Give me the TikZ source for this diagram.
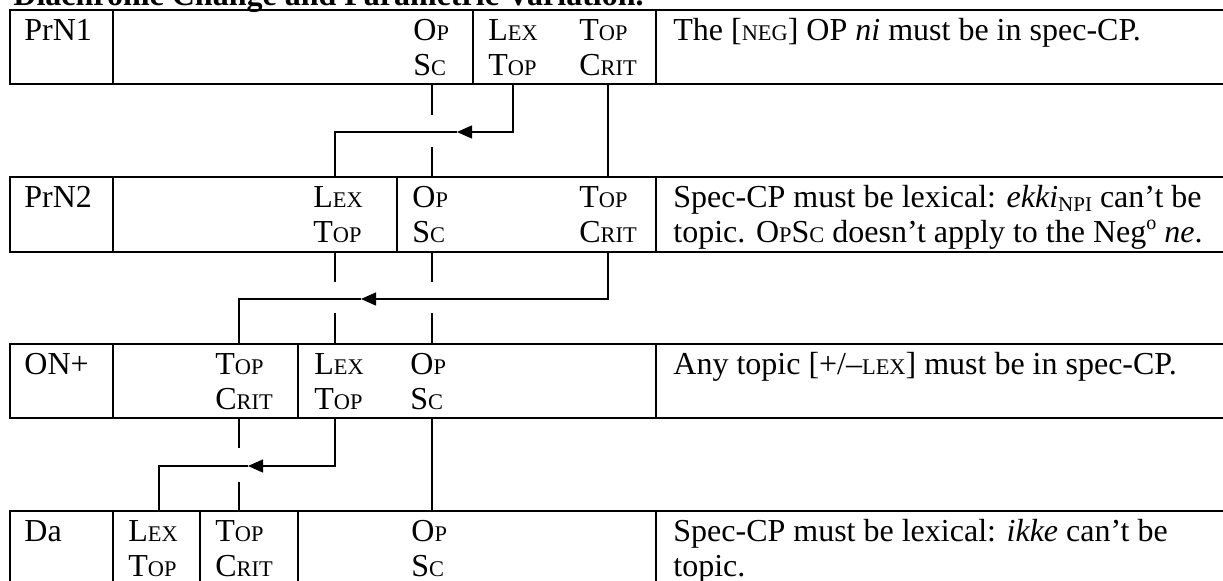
\documentclass[tikz,border=0pt]{standalone}
\usepackage{fontspec}
\setmainfont{Liberation Serif}
\usetikzlibrary{arrows.meta, positioning, calc}

% fake small caps: first letter full size, rest reduced
\newcommand{\fsc}[2]{#1{\fontsize{11.2}{12}\selectfont #2}}
\newcommand{\allsc}[1]{{\fontsize{11.2}{12}\selectfont #1}}

\begin{document}
\begin{tikzpicture}[x=0.5pt, y=-0.5pt,
  >={Triangle[length=7.5pt, width=6.5pt]},
  cell/.style={line width=1pt},
  link/.style={line width=0.7pt},
  feat/.style={anchor=base west, inner sep=0pt, font=\fontsize{16}{18}\selectfont},
  note/.style={feat}]

\useasboundingbox (0,0) rectangle (1223,580);

% Title (cut at the top edge)
\node[anchor=base west, inner sep=0pt, font=\fontsize{16}{18}\selectfont\bfseries] (title) at (13,5) {Diachronic Change and Parametric Variation.};

%%% Row 1: PrN1 %%%
\draw[cell] (10,10) rectangle (1240,84);
\draw[cell] (113,10) -- (113,84);
\draw[cell] (473,10) -- (473,84);
\draw[cell] (656,10) -- (656,84);
\node[feat] (prn1) at (24,40) {PrN1};
\node[feat] (prn1-op) at (413,40) {\fsc{O}{P}};
\node[feat] (prn1-sc) at (413,75) {\fsc{S}{C}};
\node[feat] (prn1-lex) at (488,40) {\fsc{L}{EX}};
\node[feat] (prn1-top) at (488,75) {\fsc{T}{OP}};
\node[feat] (prn1-tc) at (579,40) {\fsc{T}{OP}};
\node[feat] (prn1-crit) at (579,75) {\fsc{C}{RIT}};
\node[note] (prn1-note) at (673,40) {The [\allsc{NEG}] OP \textit{ni} must be in spec-CP.};

%%% Row 2: PrN2 %%%
\draw[cell] (10,177) rectangle (1240,252);
\draw[cell] (113,177) -- (113,252);
\draw[cell] (397,177) -- (397,252);
\draw[cell] (656,177) -- (656,252);
\node[feat] (prn2) at (24,207) {PrN2};
\node[feat] (prn2-lex) at (313,207) {\fsc{L}{EX}};
\node[feat] (prn2-top) at (313,242) {\fsc{T}{OP}};
\node[feat] (prn2-op) at (412,207) {\fsc{O}{P}};
\node[feat] (prn2-sc) at (412,242) {\fsc{S}{C}};
\node[feat] (prn2-tc) at (579,207) {\fsc{T}{OP}};
\node[feat] (prn2-crit) at (579,242) {\fsc{C}{RIT}};
\node[note] (prn2-note) at (673,207) {Spec-CP must be lexical: \textit{ekki}\raisebox{-0.3ex}{\fontsize{10.5}{11}\selectfont NPI} can’t be};
\node[note] (prn2-note2) at (673,242) {topic. \fsc{O}{P}\fsc{S}{C} doesn’t apply to the Neg\raisebox{0.85ex}{\fontsize{10}{10}\selectfont o} \textit{ne}.};

%%% Row 3: ON+ %%%
\draw[cell] (10,344) rectangle (1240,418);
\draw[cell] (113,344) -- (113,418);
\draw[cell] (298,344) -- (298,418);
\draw[cell] (656,344) -- (656,418);
\node[feat] (on) at (24,374) {ON+};
\node[feat] (on-tc) at (215,374) {\fsc{T}{OP}};
\node[feat] (on-crit) at (215,409) {\fsc{C}{RIT}};
\node[feat] (on-lex) at (314,374) {\fsc{L}{EX}};
\node[feat] (on-top) at (314,409) {\fsc{T}{OP}};
\node[feat] (on-op) at (410,374) {\fsc{O}{P}};
\node[feat] (on-sc) at (410,409) {\fsc{S}{C}};
\node[note] (on-note) at (673,374) {Any topic [+/–\allsc{LEX}] must be in spec-CP.};

%%% Row 4: Da %%%
\draw[cell] (10,511) rectangle (1240,586);
\draw[cell] (113,511) -- (113,586);
\draw[cell] (200,511) -- (200,586);
\draw[cell] (298,511) -- (298,586);
\draw[cell] (656,511) -- (656,586);
\node[feat] (da) at (24,541) {Da};
\node[feat] (da-lex) at (128,541) {\fsc{L}{EX}};
\node[feat] (da-top) at (128,576) {\fsc{T}{OP}};
\node[feat] (da-tc) at (215,541) {\fsc{T}{OP}};
\node[feat] (da-crit) at (215,576) {\fsc{C}{RIT}};
\node[feat] (da-op) at (411,541) {\fsc{O}{P}};
\node[feat] (da-sc) at (411,576) {\fsc{S}{C}};
\node[note] (da-note) at (673,541) {Spec-CP must be lexical: \textit{ikke} can’t be};
\node[note] (da-note2) at (673,576) {topic.};

% connector ends on the row borders
\coordinate (prn1-sc-out) at (432,84);
\coordinate (prn1-lex-out) at (513,84);
\coordinate (prn1-crit-out) at (608,84);
\coordinate (prn2-lex-in) at (335,177);
\coordinate (prn2-sc-in) at (432,177);
\coordinate (prn2-crit-in) at (608,177);
\coordinate (prn2-lex-out) at (335,252);
\coordinate (prn2-sc-out) at (432,252);
\coordinate (prn2-crit-out) at (608,252);
\coordinate (on-crit-in) at (239,344);
\coordinate (on-lex-in) at (335,344);
\coordinate (on-sc-in) at (432,344);
\coordinate (on-crit-out) at (239,418);
\coordinate (on-lex-out) at (335,418);
\coordinate (on-sc-out) at (432,418);
\coordinate (da-lex-in) at (159,511);
\coordinate (da-crit-in) at (239,511);
\coordinate (da-sc-in) at (432,511);
% arrow tips
\coordinate (tip1) at (457,132);
\coordinate (tip2) at (361,299);
\coordinate (tip3) at (248,466);

% PrN1 -> PrN2
\draw[link] (prn1-sc-out) -- ++(0,31) ++(0,32) -- (prn2-sc-in);
\draw[link, ->] (prn1-lex-out) |- (tip1);
\draw[link] (tip1) -| (prn2-lex-in);
\draw[link] (prn1-crit-out) -- (prn2-crit-in);

% PrN2 -> ON+
\draw[link] (prn2-lex-out) -- ++(0,30) ++(0,31) -- (on-lex-in);
\draw[link] (prn2-sc-out) -- ++(0,30) ++(0,31) -- (on-sc-in);
\draw[link, ->] (prn2-crit-out) |- (tip2);
\draw[link] (tip2) -| (on-crit-in);

% ON+ -> Da
\draw[link] (on-crit-out) -- ++(0,30) ++(0,34) -- (da-crit-in);
\draw[link, ->] (on-lex-out) |- (tip3);
\draw[link] (tip3) -| (da-lex-in);
\draw[link] (on-sc-out) -- (da-sc-in);

\end{tikzpicture}
\end{document}
